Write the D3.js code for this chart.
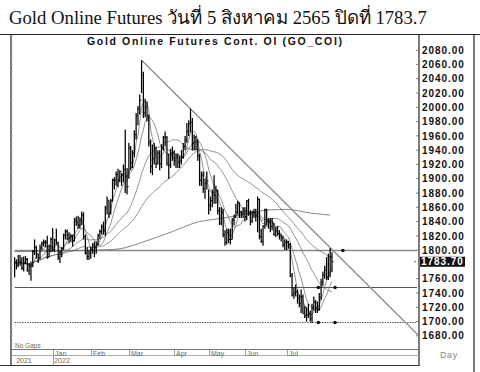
<!DOCTYPE html>
<html>
<head>
<meta charset="utf-8">
<script src="https://cdn.jsdelivr.net/npm/d3@7/dist/d3.min.js"></script>
<style>
  body { margin: 0; background: #fff; }
  text { font-family: "Liberation Sans", Arial, sans-serif; }
</style>
</head>
<body>
<div class="canvas"></div>
<script>
// daily bars, Dec 2021 -> 5 Aug 2022 (one entry per session)
const highs = [
  1790,1787,1793,1793,1790,1791,1792,1789,1782,1784,1800,1815,1806,1795,1808,1812,1815,1814,1820,1808,1818,
  1831,1816,1830,1812,1800,1804,1823,1829,1829,1825,1823,1822,1845,1847,1848,1846,1854,1853,1822,1804,1800,
  1805,1810,1812,1812,1823,1829,1836,1840,1862,1875,1870,1872,1900,1902,1910,1914,1912,1908,1920,1969,1915,
  1950,1946,1940,1968,1992,2002,2018,2066,2050,2012,2008,1990,1955,1948,1950,1945,1940,1940,1948,1960,1966,1960,1935,1942,1945,
  1940,1935,1935,1932,1940,1950,1960,1978,1982,1998,1985,1962,1960,1955,1935,1910,1910,1900,1910,
  1885,1875,1885,1905,1890,1885,1860,1860,1858,1828,1830,1830,1830,1845,1850,1865,1869,1867,1855,1860,
  1860,1870,1872,1856,1855,1858,1858,1875,1872,1830,1835,1858,1858,1845,1845,1845,1838,1832,1834,1828,1823,1820,1815,
  1815,1813,1810,1768,1748,1752,1745,1738,1745,1738,1722,1720,1725,1715,1725,1735,1730,1728,1740,1760,1770,
  1778,1790,1795,1803,1797
];
const lows = [
  1762,1773,1776,1778,1772,1770,1780,1770,1765,1757,1776,1793,1788,1782,1787,1800,1805,1804,1788,1790,1797,
  1798,1797,1808,1786,1782,1790,1800,1815,1814,1810,1812,1805,1812,1834,1830,1830,1835,1815,1794,1786,1786,
  1788,1795,1790,1795,1806,1816,1822,1822,1820,1850,1845,1850,1868,1885,1890,1888,1895,1890,1895,1880,1878,
  1900,1912,1915,1930,1955,1975,1990,2020,1985,1986,1980,1945,1908,1905,1920,1915,1920,1912,1915,1940,1945,1918,1900,1915,1925,
  1918,1915,1915,1915,1920,1928,1940,1950,1960,1965,1940,1940,1940,1925,1890,1890,1880,1872,1885,
  1850,1855,1860,1865,1865,1850,1835,1835,1818,1806,1808,1810,1808,1815,1835,1845,1850,1845,1845,1845,
  1840,1842,1848,1835,1838,1845,1840,1825,1815,1810,1806,1830,1835,1830,1825,1828,1820,1818,1820,1815,1812,1804,1800,
  1800,1802,1762,1735,1732,1735,1725,1720,1712,1711,1705,1700,1705,1700,1698,1715,1712,1712,1715,1730,1750,
  1760,1758,1758,1762,1769
];
const closes = [
  1783,1779,1785,1783,1775,1782,1787,1771,1777,1778,1798,1804,1795,1789,1803,1809,1811,1811,1790,1805,1815,
  1801,1814,1810,1790,1797,1802,1821,1826,1821,1817,1819,1813,1842,1839,1835,1842,1849,1819,1796,1791,1796,
  1801,1807,1804,1808,1820,1826,1833,1827,1859,1870,1852,1869,1898,1898,1906,1898,1910,1905,1913,1903,1889,
  1943,1922,1936,1962,1988,1998,2010,2045,1992,2000,1988,1951,1917,1928,1943,1921,1936,1921,1944,1958,1958,1922,1919,1933,1937,
  1925,1932,1923,1925,1931,1945,1954,1966,1977,1979,1950,1958,1951,1932,1898,1905,1886,1894,1897,
  1863,1869,1881,1877,1883,1855,1838,1853,1822,1811,1825,1815,1815,1842,1846,1853,1866,1853,1851,1853,
  1847,1869,1851,1841,1852,1853,1848,1871,1819,1812,1834,1857,1840,1839,1833,1838,1822,1827,1823,1820,1817,1807,1811,
  1811,1808,1764,1737,1740,1742,1733,1725,1735,1711,1708,1709,1711,1704,1719,1727,1719,1717,1734,1755,1765,
  1772,1762,1765,1791,1783.7
];

// long moving average: [session, value]
const longMA = [[0,1798],[30,1799],[55,1801],[75,1815],[87,1826],[102,1840],[110,1843],[120,1847],
  [130,1852],[139,1856],[150,1857],[163,1852],[174,1849]];
const maPeriods = [5, 10, 25, 50];

// trend line from the March top
const trendLine = [[70,2066],[222.5,1681]];

// support / resistance levels and their handle points
const levels = [1800, 1749, 1700];
const levelDots = [[181,1800],[167.5,1749],[176.7,1749],[167.5,1700],[176.7,1700]];

// 1780 is left out: the last-price box sits there
const priceTicks = [2080,2060,2040,2020,2000,1980,1960,1940,1920,1900,1880,1860,1840,1820,1800,1760,1740,1720,1700,1680];
const lastPrice = 1783.70;

const months = ['Jan','Feb','Mar','Apr','May','Jun','Jul'];
const monthStart = [21,42,63,88,107,127,150];
const years = ['2021','2022'];
const yearStart = [0,21];

const dims = { width: 480, height: 372, left: 11, right: 419, top: 34.5, bottom: 349 };

const svg = d3.select('.canvas')
              .append('svg')
              .attr('width', dims.width)
              .attr('height', dims.height);

const x = d3.scaleLinear().domain([-2, 223]).range([dims.left, dims.right]);
const y = d3.scaleLinear().domain([1661.5, 2102]).range([dims.bottom, dims.top]);

// heading
svg.append('text')
    .attr('x', 9).attr('y', 24)
    .style('font-family', '"Liberation Serif", "Times New Roman", serif')
    .attr('font-size', 18.7)
    .attr('fill', '#111')
    .text('Gold Online Futures วันที่ 5 สิงหาคม 2565 ปิดที่ 1783.7');

// frame
const frame = svg.append('g').attr('stroke', '#222').attr('stroke-width', 1.2).attr('fill', 'none');
frame.append('line').attr('x1', 0).attr('x2', 480).attr('y1', 34.5).attr('y2', 34.5);
frame.append('line').attr('x1', dims.left).attr('x2', dims.left).attr('y1', 34.5).attr('y2', 365.5);
frame.append('line').attr('x1', dims.right).attr('x2', dims.right).attr('y1', 34.5).attr('y2', 366);
frame.append('line').attr('x1', 474).attr('x2', 474).attr('y1', 34.5).attr('y2', 372);
frame.append('line').attr('x1', dims.left).attr('x2', dims.right).attr('y1', dims.bottom + 0.5).attr('y2', dims.bottom + 0.5)
    .attr('stroke', '#777').attr('stroke-width', 1);
frame.append('line').attr('x1', dims.left).attr('x2', dims.right).attr('y1', 355.5).attr('y2', 355.5)
    .attr('stroke', '#999').attr('stroke-width', 0.8);
frame.append('line').attr('x1', 0).attr('x2', dims.right).attr('y1', 365.5).attr('y2', 365.5)
    .attr('stroke', '#333').attr('stroke-width', 1);

// chart title inside the frame
svg.append('text')
    .attr('x', 87).attr('y', 44.5)
    .attr('textLength', 255).attr('lengthAdjust', 'spacing')
    .attr('font-size', 10.5).attr('font-weight', 'bold').attr('fill', '#111')
    .text('Gold Online Futures Cont. OI (GO_COI)');

// left minor ticks
svg.append('g').selectAll('line')
    .data(d3.range(1670, 2101, 10))
    .enter().append('line')
    .attr('x1', dims.left).attr('x2', dims.left + 2)
    .attr('y1', d => y(d)).attr('y2', d => y(d))
    .attr('stroke', '#aaa').attr('stroke-width', 0.8);

// right price axis
const axis = d3.axisRight(y)
    .tickValues(priceTicks)
    .tickSize(0)
    .tickPadding(3)
    .tickFormat(d3.format('.2f'));

const axisGroup = svg.append('g')
    .attr('transform', `translate(${dims.right}, 0)`)
    .call(axis);
axisGroup.select('.domain').remove();
axisGroup.selectAll('text')
    .attr('font-size', 10).attr('font-weight', 'bold')
    .attr('letter-spacing', 0.95).attr('fill', '#111')
    .style('font-family', '"Liberation Sans", Arial, sans-serif');

svg.append('g').selectAll('line')
    .data(priceTicks)
    .enter().append('line')
    .attr('x1', dims.right - 3).attr('x2', dims.right)
    .attr('y1', d => y(d)).attr('y2', d => y(d))
    .attr('stroke', '#666').attr('stroke-width', 0.8);

// horizontal levels
svg.append('g').selectAll('line')
    .data(levels)
    .enter().append('line')
    .attr('x1', x(0)).attr('x2', dims.right - 2)
    .attr('y1', d => Math.round(y(d)) + 0.5).attr('y2', d => Math.round(y(d)) + 0.5)
    .attr('stroke', (d, i) => i == 0 ? '#8a8a8a' : '#555')
    .attr('stroke-width', (d, i) => i == 0 ? 1.4 : 1)
    .attr('stroke-dasharray', (d, i) => i == 2 ? '1.5,1' : null);

// long MA
const line = d3.line()
    .x(d => x(d[0]))
    .y(d => y(d[1]))
    .curve(d3.curveMonotoneX);

svg.append('path')
    .attr('d', line(longMA))
    .attr('fill', 'none')
    .attr('stroke', '#777')
    .attr('stroke-width', 0.9);

// short MAs computed from the closes
maPeriods.forEach(p => {
    const ma = closes.map((c, i) => [i, d3.mean(closes.slice(Math.max(0, i - p + 1), i + 1))]);
    svg.append('path')
        .attr('d', line.curve(d3.curveLinear)(ma))
        .attr('fill', 'none')
        .attr('stroke', '#666')
        .attr('stroke-width', 0.7);
});

// trend line
svg.append('path')
    .attr('d', d3.line().x(d => x(d[0])).y(d => y(d[1]))(trendLine))
    .attr('fill', 'none')
    .attr('stroke', '#8c8c8c')
    .attr('stroke-width', 1.3);

// HLC bars
const bars = svg.append('g').attr('stroke', '#000');
bars.selectAll('line.hl')
    .data(closes)
    .enter().append('line')
    .attr('class', 'hl')
    .attr('x1', (d, i) => x(i)).attr('x2', (d, i) => x(i))
    .attr('y1', (d, i) => y(highs[i])).attr('y2', (d, i) => y(lows[i]))
    .attr('stroke-width', 1.25);
bars.selectAll('line.cl')
    .data(closes)
    .enter().append('line')
    .attr('class', 'cl')
    .attr('x1', (d, i) => x(i)).attr('x2', (d, i) => x(i) + 1.6)
    .attr('y1', d => y(d)).attr('y2', d => y(d))
    .attr('stroke-width', 1);

// level handles
svg.append('g').selectAll('circle')
    .data(levelDots)
    .enter().append('circle')
    .attr('cx', d => x(d[0])).attr('cy', d => Math.round(y(d[1])) + 0.5)
    .attr('r', 1.8)
    .attr('fill', '#111');

// last price marker
const lastY = y(lastPrice);
svg.append('rect')
    .attr('x', dims.right + 1).attr('y', lastY - 5)
    .attr('width', 45).attr('height', 10)
    .attr('fill', '#111');
svg.append('text')
    .attr('x', dims.right + 2).attr('y', lastY + 3.6)
    .attr('font-size', 10).attr('font-weight', 'bold')
    .attr('letter-spacing', 0.95).attr('fill', '#fff')
    .text(d3.format('.2f')(lastPrice));
svg.append('circle')
    .attr('cx', dims.right - 4).attr('cy', lastY).attr('r', 0.8).attr('fill', '#555');

// date axis
const dateAxis = svg.append('g').attr('fill', '#666').attr('font-size', 7);
months.forEach((m, i) => {
    const px = Math.round(x(monthStart[i])) + 0.5;
    dateAxis.append('line')
        .attr('x1', px).attr('x2', px)
        .attr('y1', 350).attr('y2', i == 0 ? 365 : 356)
        .attr('stroke', '#888').attr('stroke-width', 0.8);
    dateAxis.append('text')
        .attr('x', px + 1.5).attr('y', 355.5)
        .text(m);
});
years.forEach((yr, i) => {
    dateAxis.append('text')
        .attr('x', x(yearStart[i]) + 1.5).attr('y', 363)
        .text(yr);
});

svg.append('text')
    .attr('x', 15).attr('y', 347.5)
    .attr('font-size', 6.5).attr('fill', '#666')
    .text('No Gaps');

svg.append('text')
    .attr('x', 440).attr('y', 358)
    .attr('font-size', 9).attr('letter-spacing', 0.6).attr('fill', '#888')
    .text('Day');
</script>
</body>
</html>
